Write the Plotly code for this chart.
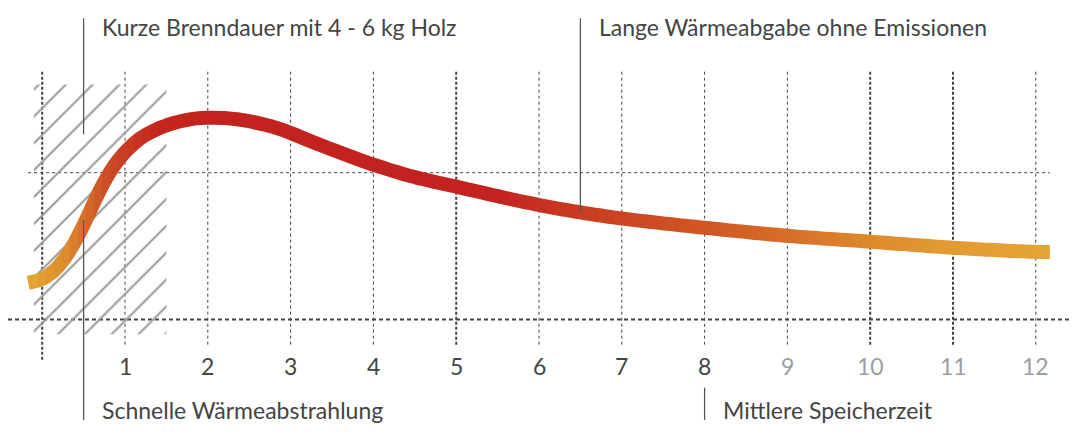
import plotly.graph_objects as go

# ---------------- data ----------------
hours = [-0.17, 0.0, 0.13, 0.25, 0.38, 0.5, 0.62, 0.74, 0.86, 1.0, 1.2, 1.4, 1.6, 1.8,
         2.0, 2.2, 2.4, 2.8, 3.0, 3.4, 4.0, 4.5, 5.0, 5.5, 6.0, 6.5, 7.0, 8.0, 9.0,
         10.0, 11.0, 12.0, 12.17]
heat = [0.25, 0.276, 0.326, 0.40, 0.514, 0.644, 0.79, 0.928, 1.04, 1.139, 1.24, 1.30, 1.34, 1.365,
        1.374, 1.372, 1.36, 1.31, 1.27, 1.18, 1.055, 0.97, 0.905, 0.84, 0.78, 0.73, 0.688, 0.625,
        0.57, 0.53, 0.489, 0.461, 0.46]
tick_values = [1, 2, 3, 4, 5, 6, 7, 8, 9, 10, 11, 12]
tick_labels = ["1", "2", "3", "4", "5", "6", "7", "8", "9", "10", "11", "12"]
grid_x = [0, 1, 2, 3, 4, 5, 6, 7, 8, 9, 10, 11, 12]
grid_x_bold = [0, 5, 10, 11]
label_top_left = "Kurze Brenndauer mit 4 - 6 kg Holz"
label_top_right = "Lange Wärmeabgabe ohne Emissionen"
label_bottom_left = "Schnelle Wärmeabstrahlung"
label_bottom_right = "Mittlere Speicherzeit"
hatch_x = [-0.1, 1.5]
hatch_y = [-0.1, 1.6]

# ---------------- style / layout ----------------
PAGE_OFF = 8                      # default body margin of the html page
W, H = 1078 - PAGE_OFF, 443 - PAGE_OFF
X0PX, XS = 42.2 - PAGE_OFF, 82.8  # figure pixel of x=0, pixels per unit
Y0PX, YS = 319.5 - PAGE_OFF, 146.8
x_range = [(0 - X0PX) / XS, (W - X0PX) / XS]
y_range = [(Y0PX - H) / YS, Y0PX / YS]


def x_of(page_px):
    return (page_px - PAGE_OFF - X0PX) / XS


def y_of(page_px):
    return (Y0PX - (page_px - PAGE_OFF)) / YS


FONT = "Lato, 'Open Sans', sans-serif"
FS = 23
TEXT = "#444444"
LIGHT = "#9d9d9d"
GRID = "#444444"

# gradient colour stops along x (style)
color_stops = [(-0.17, (0xE5, 0xA7, 0x33)), (0.25, (0xDD, 0x8E, 0x2E)), (0.5, (0xD4, 0x70, 0x2A)),
               (0.75, (0xCC, 0x51, 0x26)), (1.0, (0xC7, 0x3C, 0x22)), (1.4, (0xC4, 0x26, 0x1E)),
               (2.0, (0xC3, 0x23, 0x1E)), (5.5, (0xC3, 0x23, 0x1E)), (6.0, (0xC6, 0x30, 0x20)),
               (6.5, (0xC9, 0x3C, 0x21)), (7.0, (0xCC, 0x45, 0x22)), (8.0, (0xD0, 0x56, 0x23)),
               (9.0, (0xD6, 0x6E, 0x28)), (10.0, (0xDD, 0x89, 0x2D)), (11.0, (0xE2, 0x9C, 0x32)),
               (12.2, (0xE4, 0xA5, 0x35))]


def color_at(xv):
    if xv <= color_stops[0][0]:
        return "rgb(%d,%d,%d)" % color_stops[0][1]
    for (xa, ca), (xb, cb) in zip(color_stops[:-1], color_stops[1:]):
        if xa <= xv <= xb:
            t = (xv - xa) / (xb - xa)
            c = tuple(round(a + (b - a) * t) for a, b in zip(ca, cb))
            return "rgb(%d,%d,%d)" % c
    return "rgb(%d,%d,%d)" % color_stops[-1][1]


def px_to_x(p):
    return x_range[0] + p / W * (x_range[1] - x_range[0])


fig = go.Figure()

# hatched region
fig.add_trace(go.Scatter(
    x=[hatch_x[0], hatch_x[1], hatch_x[1], hatch_x[0], hatch_x[0]],
    y=[hatch_y[0], hatch_y[0], hatch_y[1], hatch_y[1], hatch_y[0]],
    mode="lines", line=dict(width=0), fill="toself", fillcolor="rgba(0,0,0,0)",
    fillpattern=dict(shape="/", fgcolor="#9a9a9a", size=19, solidity=0.11, fgopacity=1),
    hoverinfo="skip", showlegend=False, xaxis="x", yaxis="y"))

# gradient curve: the same spline drawn in narrow vertical strips (one x-axis per strip)
STRIP = 8
p_start, p_end = 14, W
layout_axes = {}
k = 2
p = p_start
while p < p_end:
    p1 = min(p + STRIP, p_end)
    layout_axes["xaxis%d" % k] = dict(domain=[p / W, p1 / W], range=[px_to_x(p), px_to_x(p1)],
                                      visible=False, anchor="y", fixedrange=True)
    fig.add_trace(go.Scatter(
        x=hours, y=heat, mode="lines",
        line=dict(color=color_at(px_to_x((p + p1) / 2)), width=14, shape="spline", smoothing=1.0),
        hoverinfo="skip", showlegend=False, xaxis="x%d" % k, yaxis="y"))
    k += 1
    p = p1

shapes = []
# vertical grid lines
for gx in grid_x:
    bold = gx in grid_x_bold
    shapes.append(dict(type="line", xref="x", yref="y", x0=gx, x1=gx,
                       y0=y_of(71.7), y1=y_of(361.7 if gx == 0 else 346.7),
                       line=dict(color=GRID, width=2 if bold else 1,
                                 dash="3px,2px" if bold else "3px,3px"),
                       layer="below"))
# horizontal grid lines
shapes.append(dict(type="line", xref="x", yref="y", x0=hours[0], x1=hours[-1], y0=1, y1=1,
                   line=dict(color=GRID, width=1, dash="3px,3px"), layer="below"))
shapes.append(dict(type="line", xref="x", yref="y", x0=x_range[0], x1=x_range[1], y0=0, y1=0,
                   line=dict(color=GRID, width=2, dash="4px,3px"), layer="below"))

# annotation marker lines
LINE = dict(color="#555555", width=1.3)
top_y = y_of(18.3)
bot_y = y_of(420)
shapes += [
    dict(type="line", xref="x", yref="y", x0=0.5, x1=0.5, y0=top_y, y1=y_of(134.3),
         line=LINE, layer="above"),
    dict(type="line", xref="x", yref="y", x0=0.5, x1=0.5, y0=y_of(220), y1=bot_y,
         line=LINE, layer="above"),
    dict(type="line", xref="x", yref="y", x0=6.5, x1=6.5, y0=top_y, y1=y_of(212),
         line=LINE, layer="above"),
    dict(type="line", xref="x", yref="y", x0=8, x1=8, y0=y_of(387.7), y1=bot_y,
         line=LINE, layer="above"),
]

annotations = []
for tv, tl in zip(tick_values, tick_labels):
    annotations.append(dict(x=tv, y=y_of(366), xref="x", yref="y", text=tl,
                            showarrow=False, xanchor="center", yanchor="middle",
                            font=dict(family=FONT, size=FS, color=TEXT if tv <= 8 else LIGHT)))

for txt, xx, yy in [(label_top_left, x_of(99.5), y_of(26.5)),
                    (label_top_right, x_of(596.5), y_of(26.5)),
                    (label_bottom_left, x_of(99.5), y_of(410)),
                    (label_bottom_right, x_of(721), y_of(410))]:
    annotations.append(dict(x=xx, y=yy, xref="x", yref="y", text=txt, showarrow=False,
                            xanchor="left", yanchor="middle",
                            font=dict(family=FONT, size=FS, color=TEXT)))

fig.update_layout(
    width=W, height=H, margin=dict(l=0, r=0, t=0, b=0),
    paper_bgcolor="white", plot_bgcolor="rgba(0,0,0,0)",
    showlegend=False, hovermode=False,
    xaxis=dict(domain=[0, 1], range=x_range, visible=False, fixedrange=True),
    yaxis=dict(domain=[0, 1], range=y_range, visible=False, fixedrange=True),
    shapes=shapes, annotations=annotations,
    **layout_axes,
)

fig.write_html("out.html")
